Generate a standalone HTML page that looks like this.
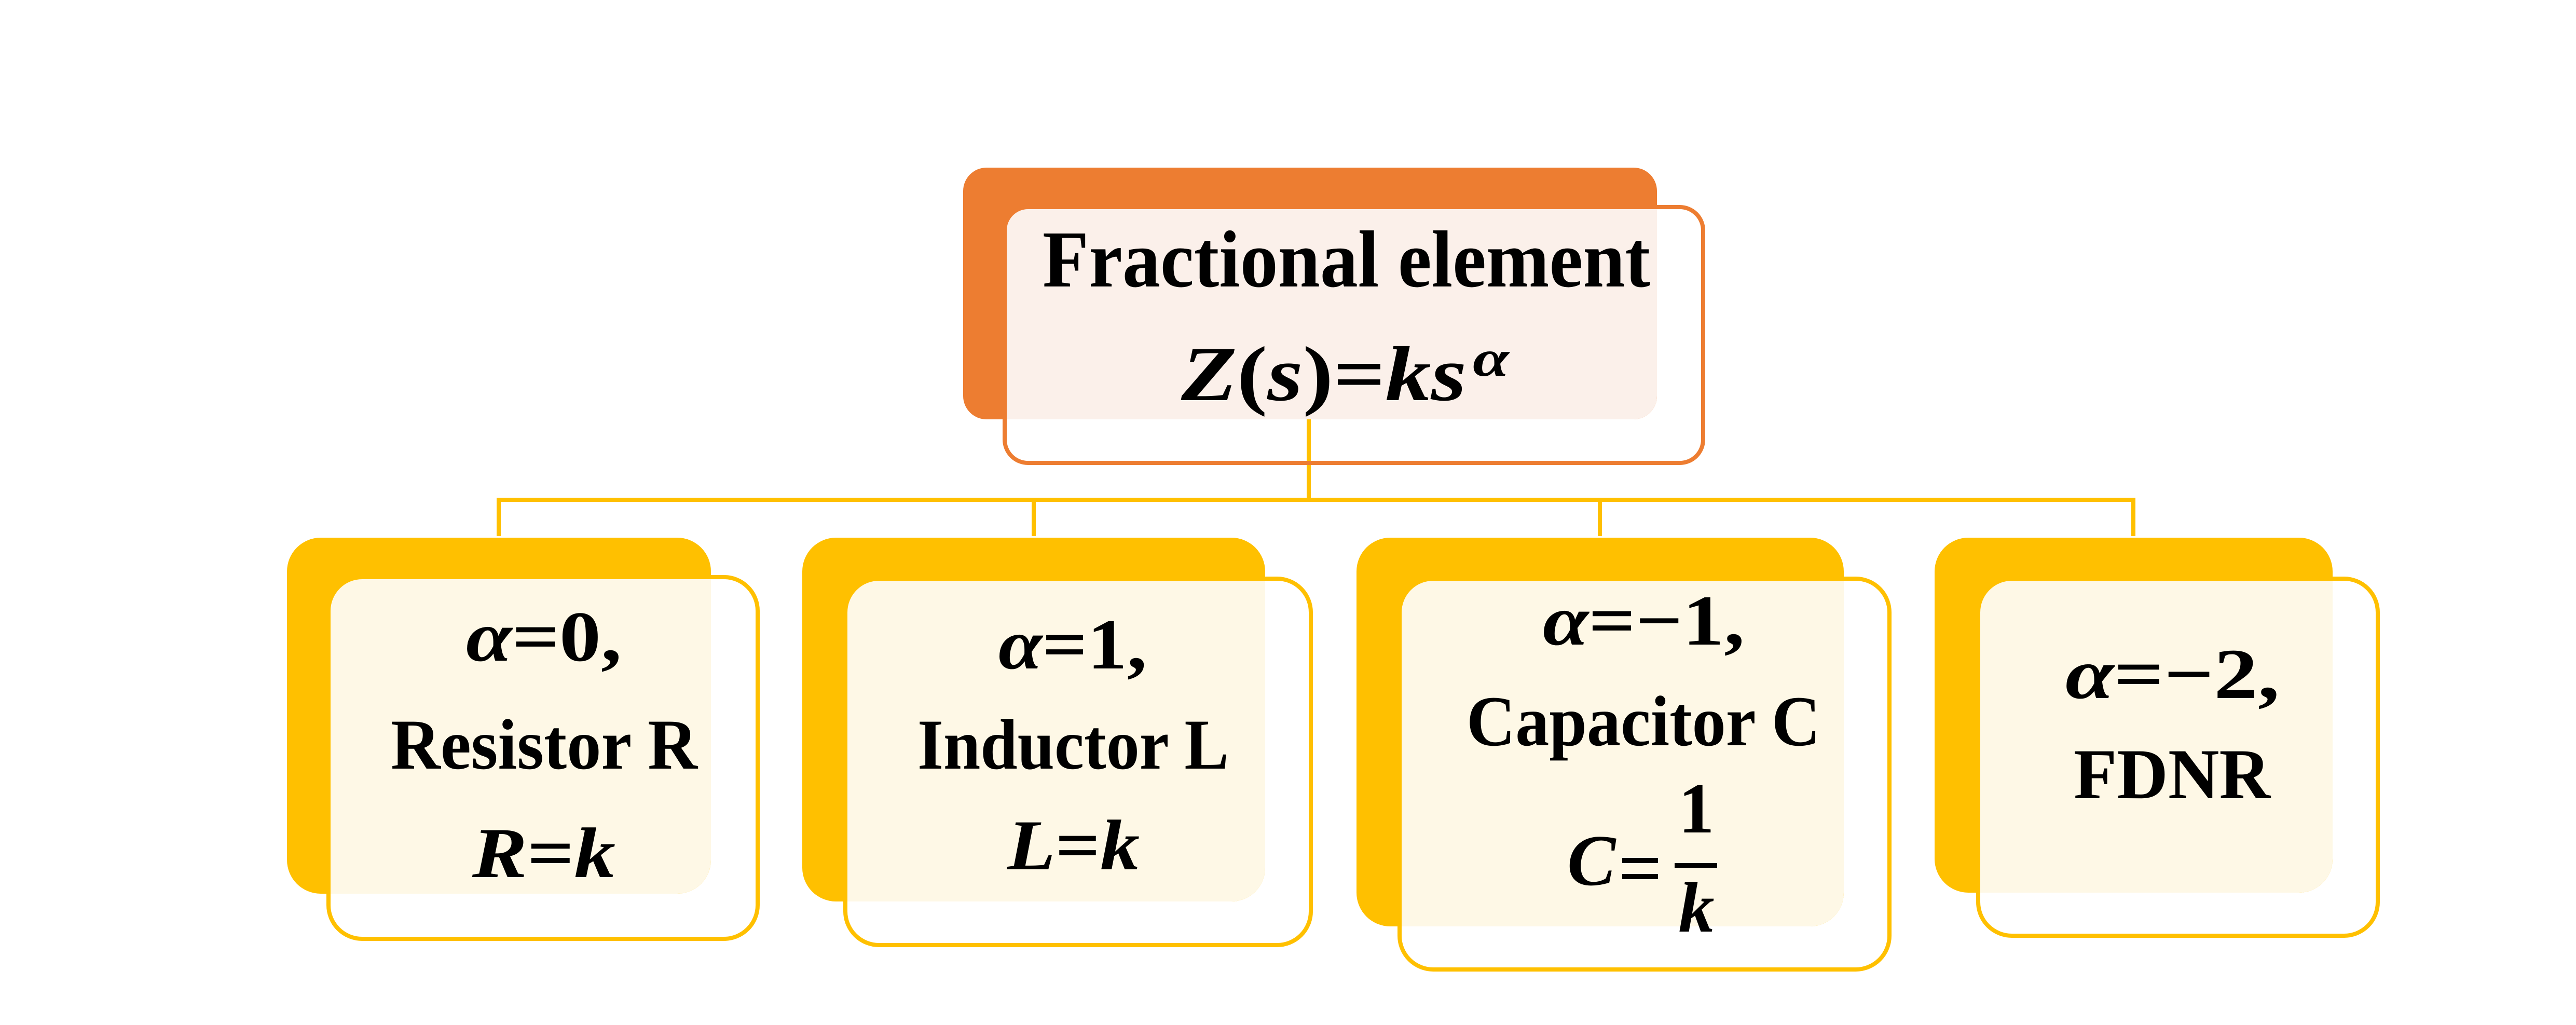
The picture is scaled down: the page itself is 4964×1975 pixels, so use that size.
<!DOCTYPE html>
<html><head><meta charset="utf-8"><style>html,body{margin:0;padding:0;background:#fff;}svg{display:block}</style></head>
<body>
<svg width="4964" height="1975" viewBox="0 0 4964 1975" xmlns="http://www.w3.org/2000/svg" font-family="'Liberation Serif', serif" font-weight="bold">
<defs>
<clipPath id="c0"><rect x="1856" y="323" width="1337" height="485" rx="45"/></clipPath>
<clipPath id="c1"><rect x="553" y="1036" width="817" height="686" rx="65"/></clipPath>
<clipPath id="c2"><rect x="1546" y="1036" width="892" height="701" rx="65"/></clipPath>
<clipPath id="c3"><rect x="2614" y="1036" width="939" height="749" rx="65"/></clipPath>
<clipPath id="c4"><rect x="3728" y="1036" width="767" height="684" rx="65"/></clipPath>
</defs>
<rect width="4964" height="1975" fill="#fff"/>
<g stroke="#FFC000" stroke-width="8" fill="none">
<line x1="2522" y1="808" x2="2522" y2="963"/>
<line x1="957" y1="963" x2="4115" y2="963"/>
<line x1="961" y1="963" x2="961" y2="1033"/>
<line x1="1992" y1="963" x2="1992" y2="1033"/>
<line x1="3083" y1="963" x2="3083" y2="1033"/>
<line x1="4111" y1="963" x2="4111" y2="1033"/>
</g>
<rect x="1856" y="323" width="1337" height="485" rx="45" fill="#ED7D31"/>
<rect x="1936" y="399" width="1346" height="493" rx="45" fill="#FBF0EA" clip-path="url(#c0)"/>
<rect x="1936" y="399" width="1346" height="493" rx="45" fill="none" stroke="#ED7D31" stroke-width="8"/>

<rect x="553" y="1036" width="817" height="686" rx="65" fill="#FFC000"/>
<rect x="633" y="1112" width="827" height="697" rx="65" fill="#FEF8E6" clip-path="url(#c1)"/>
<rect x="633" y="1112" width="827" height="697" rx="65" fill="none" stroke="#FFC000" stroke-width="8"/>

<rect x="1546" y="1036" width="892" height="701" rx="65" fill="#FFC000"/>
<rect x="1629" y="1115" width="897" height="706" rx="65" fill="#FEF8E6" clip-path="url(#c2)"/>
<rect x="1629" y="1115" width="897" height="706" rx="65" fill="none" stroke="#FFC000" stroke-width="8"/>

<rect x="2614" y="1036" width="939" height="749" rx="65" fill="#FFC000"/>
<rect x="2697" y="1115" width="944" height="753" rx="65" fill="#FEF8E6" clip-path="url(#c3)"/>
<rect x="2697" y="1115" width="944" height="753" rx="65" fill="none" stroke="#FFC000" stroke-width="8"/>

<rect x="3728" y="1036" width="767" height="684" rx="65" fill="#FFC000"/>
<rect x="3812" y="1115" width="770" height="688" rx="65" fill="#FEF8E6" clip-path="url(#c4)"/>
<rect x="3812" y="1115" width="770" height="688" rx="65" fill="none" stroke="#FFC000" stroke-width="8"/>

<g fill="#000">
<text x="2009" y="552" font-size="156" textLength="1171" lengthAdjust="spacingAndGlyphs">Fractional element</text>
<text x="2276" y="771" font-size="150" textLength="550" lengthAdjust="spacingAndGlyphs"><tspan font-style="italic">Z</tspan>(<tspan font-style="italic">s</tspan>)=<tspan font-style="italic">ks</tspan></text>
<text x="2838" y="724" font-size="100" font-style="italic" textLength="70" lengthAdjust="spacingAndGlyphs">α</text>

<text x="898" y="1273" font-size="138" textLength="300" lengthAdjust="spacingAndGlyphs"><tspan font-style="italic">α</tspan>=0,</text>
<text x="753" y="1481" font-size="138" textLength="591" lengthAdjust="spacingAndGlyphs">Resistor R</text>
<text x="910" y="1690" font-size="138" textLength="276" lengthAdjust="spacingAndGlyphs"><tspan font-style="italic">R</tspan>=<tspan font-style="italic">k</tspan></text>

<text x="1924" y="1288" font-size="138" textLength="286" lengthAdjust="spacingAndGlyphs"><tspan font-style="italic">α</tspan>=1,</text>
<text x="1768" y="1481" font-size="138" textLength="600" lengthAdjust="spacingAndGlyphs">Inductor L</text>
<text x="1941" y="1675" font-size="138" textLength="255" lengthAdjust="spacingAndGlyphs"><tspan font-style="italic">L</tspan>=<tspan font-style="italic">k</tspan></text>

<text x="2973" y="1242" font-size="138" textLength="389" lengthAdjust="spacingAndGlyphs"><tspan font-style="italic">α</tspan>=−1,</text>
<text x="2826" y="1436" font-size="138" textLength="682" lengthAdjust="spacingAndGlyphs">Capacitor C</text>
<text x="3020" y="1705" font-size="140" font-family="'Liberation Serif', serif" font-weight="bold" font-style="italic">C</text>
<rect x="3126" y="1653" width="69" height="10"/>
<rect x="3126" y="1684" width="69" height="10"/>
<text x="3269" y="1604" font-size="138" text-anchor="middle">1</text>
<rect x="3227" y="1663" width="82" height="9"/>
<text x="3269" y="1795" font-size="138" font-style="italic" text-anchor="middle">k</text>

<text x="3980" y="1345" font-size="138" textLength="413" lengthAdjust="spacingAndGlyphs"><tspan font-style="italic">α</tspan>=−2,</text>
<text x="3996" y="1538" font-size="138" textLength="379" lengthAdjust="spacingAndGlyphs">FDNR</text>
</g>
</svg>
</body></html>
